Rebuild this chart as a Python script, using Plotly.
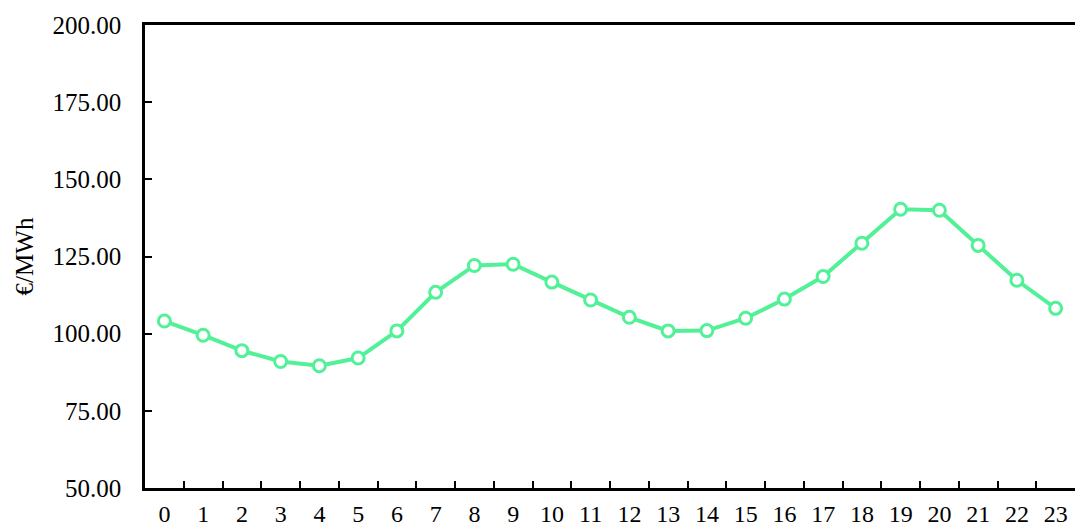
import plotly.graph_objects as go

# Hourly price profile
hours = [str(h) for h in range(24)]
prices = [104.1, 99.5, 94.5, 91.0, 89.6, 92.1, 100.9, 113.4, 122.1, 122.5,
          116.7, 110.9, 105.3, 100.9, 101.0, 105.0, 111.2, 118.5, 129.3, 140.3,
          140.0, 128.6, 117.3, 108.2]
y_ticks = [50, 75, 100, 125, 150, 175, 200]

line_color = "#52F197"
font_family = "Times New Roman"

fig = go.Figure()
fig.add_trace(go.Scatter(
    x=hours,
    y=prices,
    mode="lines+markers",
    line=dict(color=line_color, width=4),
    marker=dict(size=12, color="white", line=dict(color=line_color, width=3)),
    showlegend=False,
))

fig.update_layout(
    width=1075,
    height=529,
    margin=dict(l=145, r=0, t=25, b=41, autoexpand=False),
    paper_bgcolor="white",
    plot_bgcolor="white",
    font=dict(family=font_family, size=25, color="black"),
    xaxis=dict(
        type="category",
        range=[-0.5, 23.5],
        automargin=False,
        tickson="boundaries",
        ticks="inside",
        ticklen=7,
        tickwidth=2,
        tickcolor="black",
        showline=True,
        linecolor="black",
        linewidth=2.5,
        mirror=True,
        showgrid=False,
        ticklabelstandoff=2,
        tickfont=dict(family=font_family, size=24),
    ),
    yaxis=dict(
        range=[50, 200],
        automargin=False,
        tickvals=y_ticks,
        tickformat=".2f",
        ticks="inside",
        ticklen=7,
        tickwidth=2,
        tickcolor="black",
        showline=True,
        linecolor="black",
        linewidth=2.5,
        mirror=False,
        showgrid=False,
        zeroline=False,
        ticklabelstandoff=16,
        tickfont=dict(family=font_family, size=25),
        title=dict(text="€/MWh", font=dict(family=font_family, size=25), standoff=12),
    ),
)

fig.write_html("out.html")
